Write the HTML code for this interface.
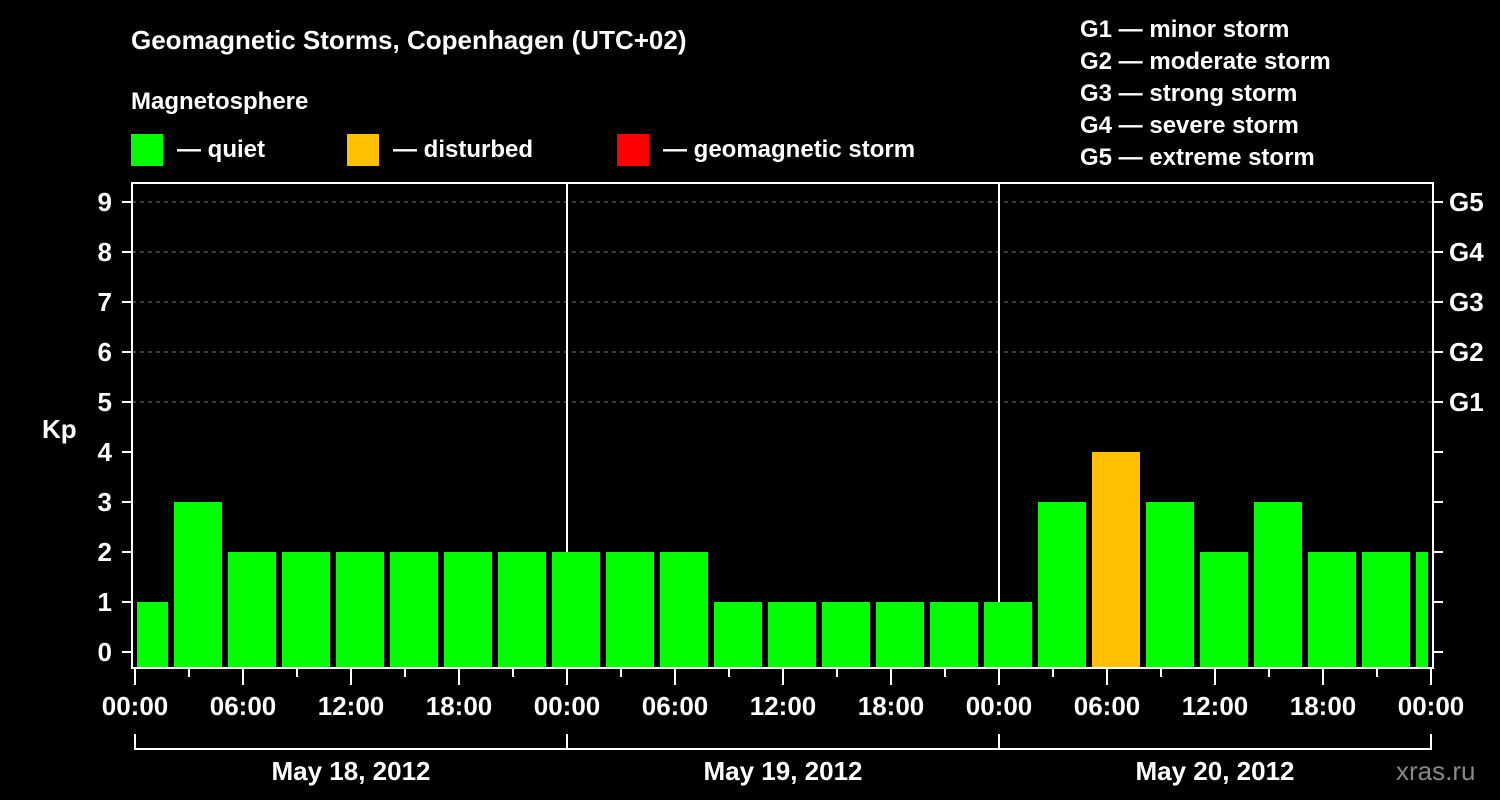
<!DOCTYPE html>
<html><head><meta charset="utf-8"><style>
body{margin:0;background:#000;width:1500px;height:800px;overflow:hidden}
svg{display:block;font-family:"Liberation Sans",sans-serif;font-weight:bold}
</style></head><body>
<svg id="chart" width="1500" height="800" viewBox="0 0 1500 800">
<rect width="1500" height="800" fill="#000"/>
<text x="131" y="49" fill="#fff" font-size="26">Geomagnetic Storms, Copenhagen (UTC+02)</text>
<text x="131" y="109" fill="#fff" font-size="24">Magnetosphere</text>
<g><rect x="131" y="134" width="32" height="32" fill="#00ff00"/><text x="177" y="157" fill="#fff" font-size="24">— quiet</text></g>
<g><rect x="347" y="134" width="32" height="32" fill="#ffc000"/><text x="393" y="157" fill="#fff" font-size="24">— disturbed</text></g>
<g><rect x="617" y="134" width="32" height="32" fill="#ff0000"/><text x="663" y="157" fill="#fff" font-size="24">— geomagnetic storm</text></g>
<g fill="#fff" font-size="24">
<text x="1080" y="37">G1 — minor storm</text><text x="1080" y="69">G2 — moderate storm</text><text x="1080" y="101">G3 — strong storm</text><text x="1080" y="133">G4 — severe storm</text><text x="1080" y="165">G5 — extreme storm</text></g>
<text x="42" y="438" fill="#fff" font-size="26">Kp</text>
<text x="1396" y="780" fill="#888" font-size="26" font-weight="normal">xras.ru</text>
<g id="grid"></g><g id="bars"></g><g id="axes"></g>
</svg>
<script>
const kpValues=[1,3,2,2,2,2,2,2,2,2,2,1,1,1,1,1,1,3,4,3,2,3,2,2,2];
const barStartHour=-1;
const gLabels=["G1","G2","G3","G4","G5"];
const dayLabels=["May 18, 2012","May 19, 2012","May 20, 2012"];
const timeLabels=["00:00","06:00","12:00","18:00"];
const NS="http://www.w3.org/2000/svg";
const X0=135,PXH=18,L=132,R=1433,T=183,B=668;
const x=h=>X0+h*PXH, y=v=>652-v*50;
function mk(tag,attrs,parent,txt){const e=document.createElementNS(NS,tag);for(const k in attrs)e.setAttribute(k,attrs[k]);if(txt!==undefined)e.textContent=txt;parent.appendChild(e);return e;}
const grid=document.getElementById('grid'),bars=document.getElementById('bars'),axes=document.getElementById('axes');
for(let v=5;v<=9;v++){const g=mk('line',{x1:L,x2:R,y1:y(v),y2:y(v),stroke:'#777','stroke-dasharray':'4,4','stroke-width':1},grid);

}
for(let d=1;d<dayLabels.length;d++){const l=mk('line',{x1:x(24*d),x2:x(24*d),y1:T,y2:B,stroke:'#fff','stroke-width':2},grid);

}
kpValues.forEach((v,i)=>{const h=barStartHour+3*i;let x1=Math.max(x(h)+3,L+5),x2=Math.min(x(h+3)-3,R-5);
const col=v>=5?'#ff0000':(v>=4?'#ffc000':'#00ff00');
const r=mk('rect',{x:x1,y:y(v),width:x2-x1,height:B-y(v),fill:col},bars);

});
const fr=mk('rect',{x:L,y:T,width:R-L,height:B-T,fill:'none',stroke:'#fff','stroke-width':2},axes);


for(let v=0;v<=9;v++){mk('line',{x1:122,x2:L,y1:y(v),y2:y(v),stroke:'#fff','stroke-width':2},axes);
mk('line',{x1:R,x2:R+10,y1:y(v),y2:y(v),stroke:'#fff','stroke-width':2},axes);
const t=mk('text',{x:112,y:y(v)+9,fill:'#fff','font-size':26,'text-anchor':'end'},axes,String(v));


if(v>=5){const g=mk('text',{x:1449,y:y(v)+9,fill:'#fff','font-size':26},axes,gLabels[v-5]);

}}
const nd=dayLabels.length;
for(let h=0;h<=24*nd;h+=3){const major=h%6===0;mk('line',{x1:x(h),x2:x(h),y1:B,y2:B+(major?17:9),stroke:'#fff','stroke-width':2},axes);
if(major){const t=mk('text',{x:x(h),y:715,fill:'#fff','font-size':26,'text-anchor':'middle'},axes,timeLabels[(h/6)%4]);

}}
mk('polyline',{points:`${x(0)},734 ${x(0)},749 ${x(24*nd)},749 ${x(24*nd)},734`,fill:'none',stroke:'#fff','stroke-width':2},axes);
for(let d=1;d<nd;d++)mk('line',{x1:x(24*d),x2:x(24*d),y1:734,y2:749,stroke:'#fff','stroke-width':2},axes);
dayLabels.forEach((s,d)=>{const t=mk('text',{x:x(24*d+12),y:780,fill:'#fff','font-size':26,'text-anchor':'middle'},axes,s);

});
</script>
</body></html>
